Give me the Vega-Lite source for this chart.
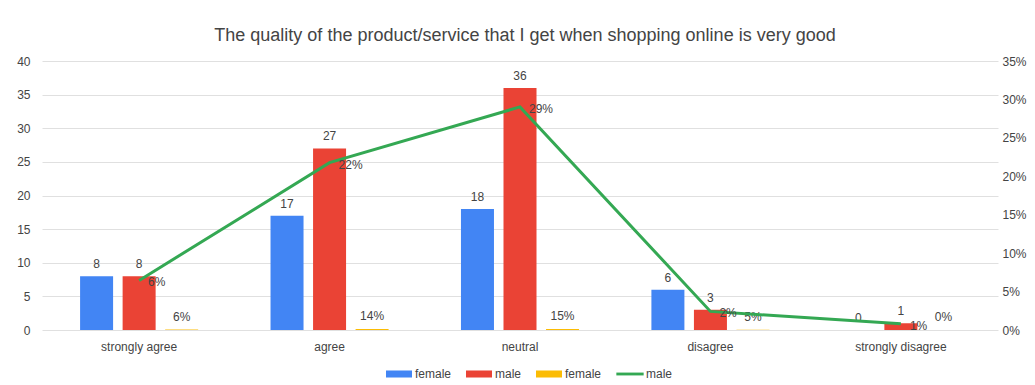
{
  "$schema": "https://vega.github.io/schema/vega-lite/v6.json",
  "width": 956,
  "height": 269,
  "autosize": {"type": "none"},
  "padding": {"left": 42, "top": 61, "right": 37, "bottom": 55},
  "background": "white",
  "title": {
    "text": "The quality of the product/service that I get when shopping online is very good",
    "fontSize": 18,
    "font": "Liberation Sans",
    "fontWeight": "normal",
    "color": "#444444",
    "offset": 10,
    "dx": 5,
    "anchor": "middle"
  },
  "config": {
    "view": {"stroke": null},
    "font": "Liberation Sans",
    "axis": {"labelFont": "Liberation Sans", "labelFontSize": 12, "labelColor": "#444444", "ticks": false, "domain": false, "title": null},
    "legend": {"labelFont": "Liberation Sans", "labelFontSize": 12, "labelColor": "#444444"}
  },
  "data": {
    "values": [
      {"category": "strongly agree", "series": "female_n", "value": 8},
      {"category": "strongly agree", "series": "male_n", "value": 8},
      {"category": "strongly agree", "series": "female_pct", "value": 0.0645},
      {"category": "strongly agree", "series": "male_pct", "value": 0.0645},
      {"category": "agree", "series": "female_n", "value": 17},
      {"category": "agree", "series": "male_n", "value": 27},
      {"category": "agree", "series": "female_pct", "value": 0.1371},
      {"category": "agree", "series": "male_pct", "value": 0.2177},
      {"category": "neutral", "series": "female_n", "value": 18},
      {"category": "neutral", "series": "male_n", "value": 36},
      {"category": "neutral", "series": "female_pct", "value": 0.1452},
      {"category": "neutral", "series": "male_pct", "value": 0.2903},
      {"category": "disagree", "series": "female_n", "value": 6},
      {"category": "disagree", "series": "male_n", "value": 3},
      {"category": "disagree", "series": "female_pct", "value": 0.0484},
      {"category": "disagree", "series": "male_pct", "value": 0.0242},
      {"category": "strongly disagree", "series": "female_n", "value": 0},
      {"category": "strongly disagree", "series": "male_n", "value": 1},
      {"category": "strongly disagree", "series": "female_pct", "value": 0},
      {"category": "strongly disagree", "series": "male_pct", "value": 0.0081}
    ]
  },
  "layer": [
    {
      "transform": [{"filter": "datum.series !== 'male_pct'"}],
      "encoding": {
        "x": {
          "field": "category", "type": "nominal", "sort": null,
          "scale": {"paddingInner": 0.38, "paddingOuter": 0.2},
          "axis": {"labelAngle": 0, "labelPadding": 11, "grid": false}
        },
        "y": {
          "field": "value", "type": "quantitative",
          "scale": {"domain": [0, 40], "nice": false},
          "axis": {"orient": "left", "values": [0, 5, 10, 15, 20, 25, 30, 35, 40], "labelPadding": 12, "grid": true, "gridColor": "#e0e0e0"}
        },
        "xOffset": {
          "field": "series", "type": "nominal",
          "scale": {"domain": ["female_n", "male_n", "female_pct"], "paddingInner": 0.224, "paddingOuter": 0}
        }
      },
      "layer": [
        {
          "mark": {"type": "bar"},
          "encoding": {
            "color": {
              "field": "series", "type": "nominal",
              "scale": {"domain": ["female_n", "male_n", "female_pct", "male_pct"], "range": ["#4285f4", "#ea4335", "#fbbc04", "#34a853"]},
              "legend": {
                "title": null,
                "orient": "none",
                "direction": "horizontal",
                "legendX": 344,
                "legendY": 300,
                "symbolSize": 676,
                "columnPadding": 14,
                "labelOffset": 3,
                "padding": 0,
                "labelExpr": "split(datum.label, '_')[0]",
                "encode": {
                  "symbols": {
                    "update": {
                      "shape": {"signal": "datum.value === 'male_pct' ? 'M-1.05,-0.11H1.05V0.11H-1.05Z' : 'M-1,-0.27H1V0.27H-1Z'"},
                      "fill": {"scale": "color", "field": "value"},
                      "stroke": {"value": "transparent"},
                      "strokeWidth": {"value": 0}
                    }
                  }
                }
              }
            }
          }
        },
        {
          "transform": [{"filter": "datum.series !== 'female_pct'"}],
          "mark": {"type": "text", "baseline": "bottom", "dy": -5, "fontSize": 12, "color": "#444444"},
          "encoding": {"text": {"field": "value", "type": "quantitative", "format": "d"}}
        },
        {
          "transform": [{"filter": "datum.series === 'female_pct'"}],
          "mark": {"type": "text", "baseline": "bottom", "dy": -6, "fontSize": 12, "color": "#444444"},
          "encoding": {"text": {"field": "value", "type": "quantitative", "format": ".0%"}}
        }
      ]
    },
    {
      "transform": [{"filter": "datum.series === 'male_pct'"}],
      "encoding": {
        "x": {"field": "category", "type": "nominal", "sort": null},
        "y": {
          "field": "value", "type": "quantitative",
          "scale": {"domain": [0, 0.35], "nice": false},
          "axis": {"orient": "right", "values": [0, 0.05, 0.1, 0.15, 0.2, 0.25, 0.3, 0.35], "format": ".0%", "labelPadding": 4, "grid": false}
        }
      },
      "layer": [
        {
          "mark": {"type": "line", "strokeWidth": 3},
          "encoding": {"color": {"field": "series", "type": "nominal"}}
        },
        {
          "mark": {"type": "text", "align": "left", "baseline": "middle", "dx": 9, "dy": 2, "fontSize": 12, "color": "#444444"},
          "encoding": {"text": {"field": "value", "type": "quantitative", "format": ".0%"}}
        }
      ]
    }
  ],
  "resolve": {"scale": {"y": "independent"}}
}
